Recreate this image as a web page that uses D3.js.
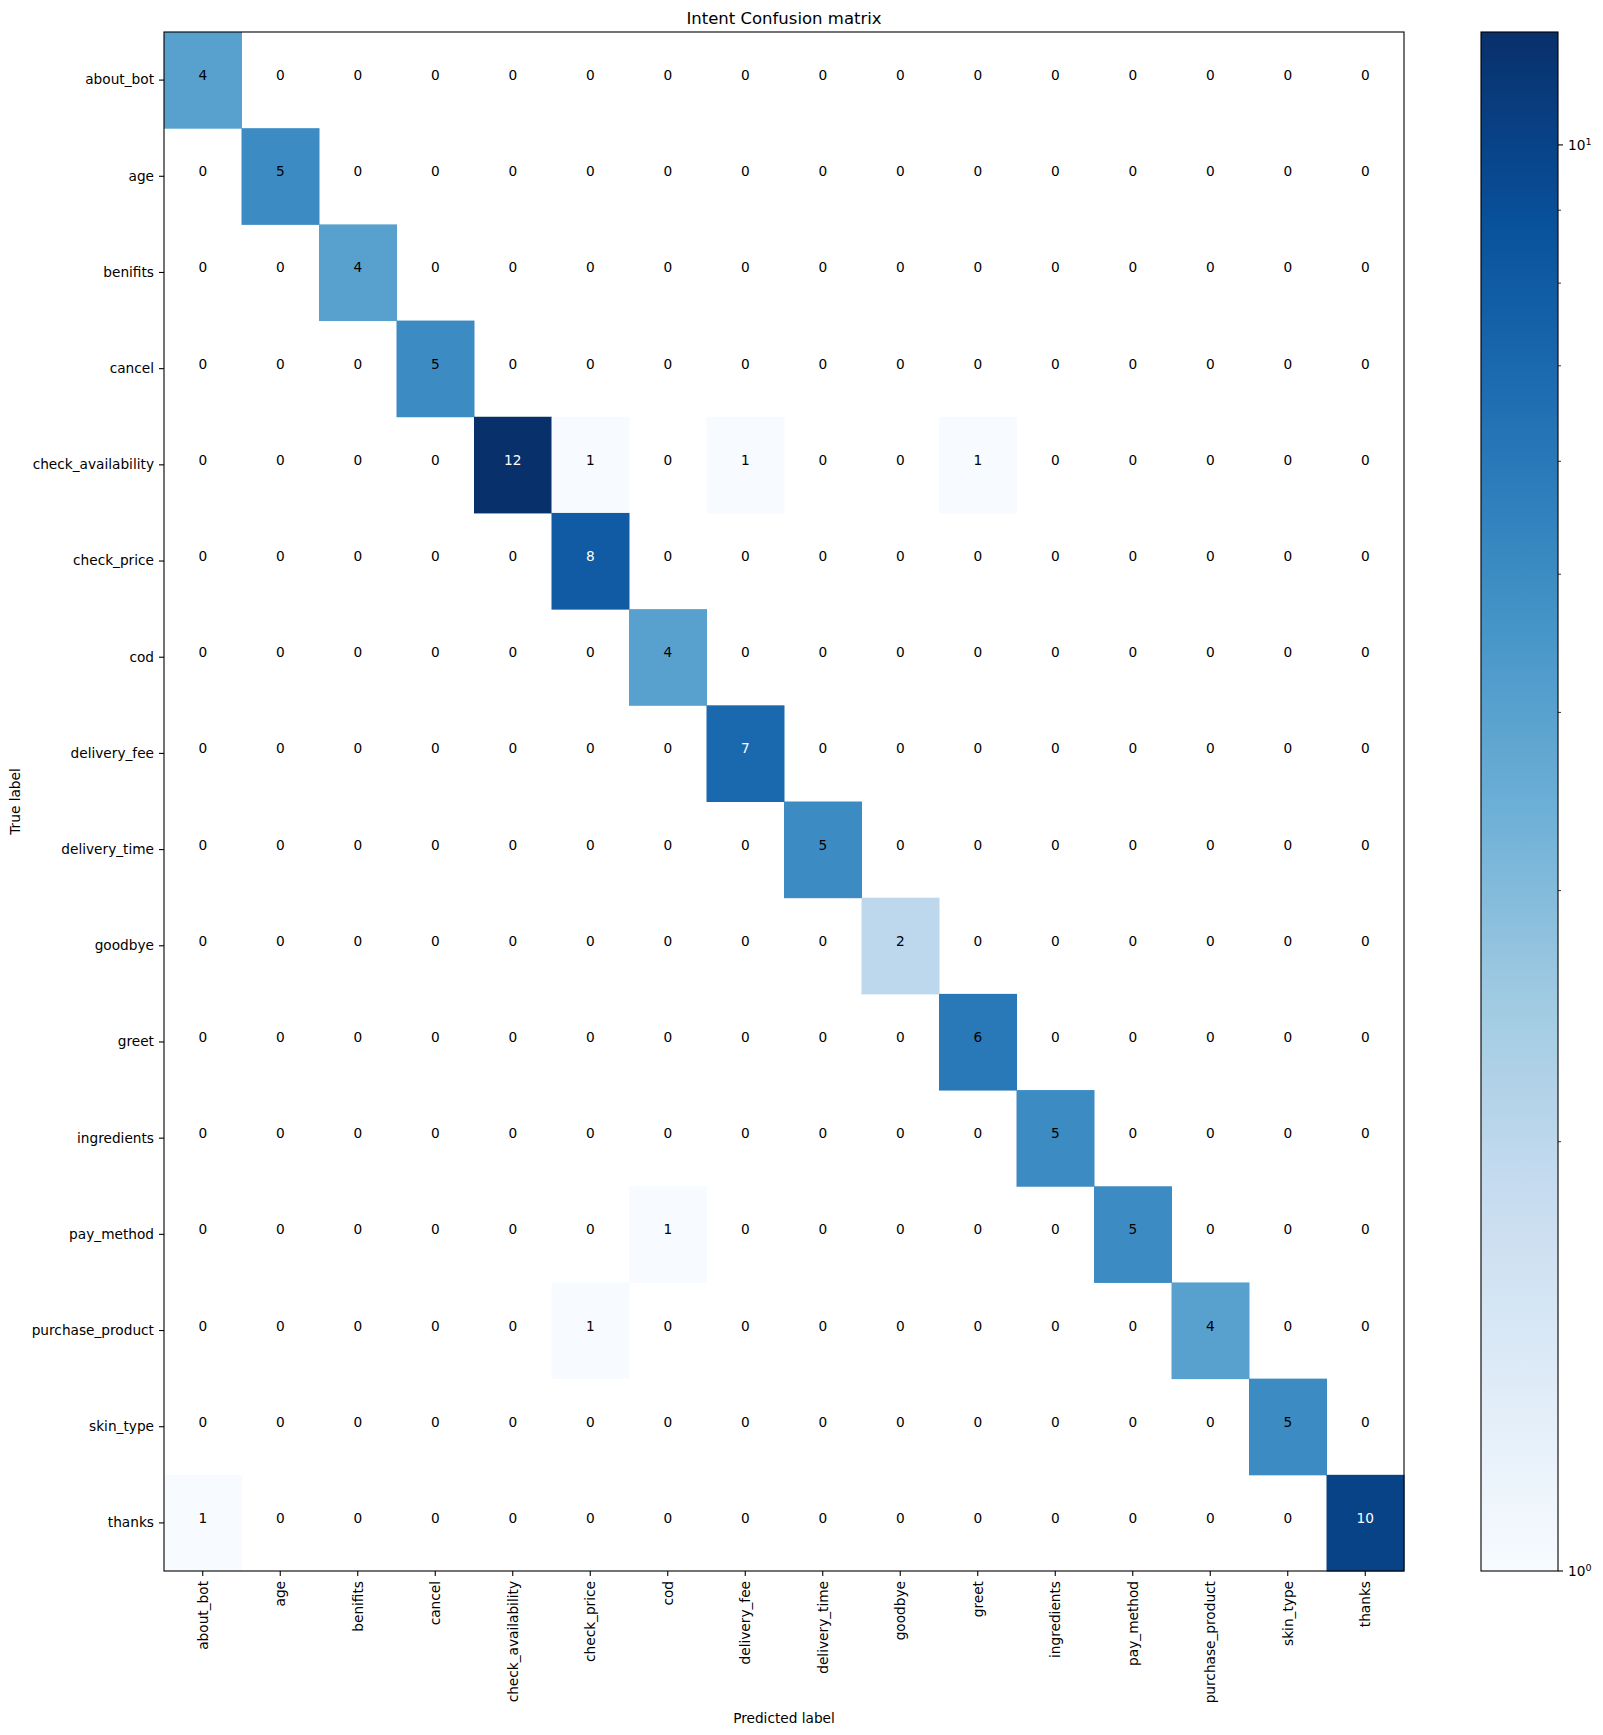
<!DOCTYPE html>
<html>
<head>
<meta charset="utf-8">
<script src="https://cdn.jsdelivr.net/npm/d3@7"></script>
<style>
  body { margin: 0; background: #fff; }
  text { font-family: "DejaVu Sans", sans-serif; fill: #000; }
</style>
</head>
<body>
<svg id="chart" width="1603" height="1735"></svg>
<script>
// intent names (rows = true label, cols = predicted label)
const labels = ["about_bot", "age", "benifits", "cancel", "check_availability",
  "check_price", "cod", "delivery_fee", "delivery_time", "goodbye", "greet",
  "ingredients", "pay_method", "purchase_product", "skin_type", "thanks"];

// confusion matrix rows
const matrix = [
  [4, 0, 0, 0, 0, 0, 0, 0, 0, 0, 0, 0, 0, 0, 0, 0],
  [0, 5, 0, 0, 0, 0, 0, 0, 0, 0, 0, 0, 0, 0, 0, 0],
  [0, 0, 4, 0, 0, 0, 0, 0, 0, 0, 0, 0, 0, 0, 0, 0],
  [0, 0, 0, 5, 0, 0, 0, 0, 0, 0, 0, 0, 0, 0, 0, 0],
  [0, 0, 0, 0, 12, 1, 0, 1, 0, 0, 1, 0, 0, 0, 0, 0],
  [0, 0, 0, 0, 0, 8, 0, 0, 0, 0, 0, 0, 0, 0, 0, 0],
  [0, 0, 0, 0, 0, 0, 4, 0, 0, 0, 0, 0, 0, 0, 0, 0],
  [0, 0, 0, 0, 0, 0, 0, 7, 0, 0, 0, 0, 0, 0, 0, 0],
  [0, 0, 0, 0, 0, 0, 0, 0, 5, 0, 0, 0, 0, 0, 0, 0],
  [0, 0, 0, 0, 0, 0, 0, 0, 0, 2, 0, 0, 0, 0, 0, 0],
  [0, 0, 0, 0, 0, 0, 0, 0, 0, 0, 6, 0, 0, 0, 0, 0],
  [0, 0, 0, 0, 0, 0, 0, 0, 0, 0, 0, 5, 0, 0, 0, 0],
  [0, 0, 0, 0, 0, 0, 1, 0, 0, 0, 0, 0, 5, 0, 0, 0],
  [0, 0, 0, 0, 0, 1, 0, 0, 0, 0, 0, 0, 0, 4, 0, 0],
  [0, 0, 0, 0, 0, 0, 0, 0, 0, 0, 0, 0, 0, 0, 5, 0],
  [1, 0, 0, 0, 0, 0, 0, 0, 0, 0, 0, 0, 0, 0, 0, 10]
];

// colorbar ticks (log scale)
const cbMajor = [1, 10];
const cbMinor = [2, 3, 4, 5, 6, 7, 8, 9];

// matplotlib "Blues"
const bluesStops = ["#f7fbff", "#deebf7", "#c6dbef", "#9ecae1", "#6baed6",
  "#4292c6", "#2171b5", "#08519c", "#08306b"];

const vmin = 1, vmax = d3.max(matrix.flat());
const axLeft = 164, axRight = 1404, axTop = 32, axBottom = 1571;
const cbLeft = 1481, cbRight = 1558;
const fs = 13.7;

const svg = d3.select("#chart");

const x = d3.scaleBand().domain(labels).range([axLeft, axRight]);
const y = d3.scaleBand().domain(labels).range([axTop, axBottom]);

const ramp = d3.scaleLinear()
  .domain(d3.range(bluesStops.length).map(i => i / (bluesStops.length - 1)))
  .range(bluesStops)
  .interpolate(d3.interpolateRgb);
const norm = d3.scaleLog().domain([vmin, vmax]).range([0, 1]);
const color = v => ramp(norm(v));

const cells = [];
matrix.forEach((row, i) => row.forEach((v, j) => cells.push({ r: labels[i], c: labels[j], v })));

// heatmap cells (zeros are masked -> white)
svg.append("g").selectAll("rect")
  .data(cells.filter(d => d.v > 0))
  .join("rect")
  .attr("x", d => x(d.c))
  .attr("y", d => y(d.r))
  .attr("width", x.bandwidth() + 0.5)
  .attr("height", y.bandwidth() + 0.5)
  .attr("fill", d => color(d.v));

// annotations
const thresh = vmax / 2;
svg.append("g").selectAll("text")
  .data(cells)
  .join("text")
  .attr("x", d => x(d.c) + x.bandwidth() / 2)
  .attr("y", d => y(d.r) + y.bandwidth() / 2)
  .attr("text-anchor", "middle")
  .style("font-size", fs + "px")
  .style("fill", d => d.v > thresh ? "#fff" : "#000")
  .text(d => d.v);

// axes
const xAxis = svg.append("g")
  .attr("transform", `translate(0,${axBottom})`)
  .call(d3.axisBottom(x).tickSize(5).tickPadding(5));
xAxis.selectAll("text")
  .attr("transform", "rotate(-90)")
  .attr("x", -10)
  .attr("y", 0)
  .attr("dy", "0.35em")
  .attr("text-anchor", "end");

const yAxis = svg.append("g")
  .attr("transform", `translate(${axLeft},0)`)
  .call(d3.axisLeft(y).tickSize(5).tickPadding(5));

[xAxis, yAxis].forEach(g => {
  g.select(".domain").remove();
  g.selectAll("line").attr("stroke", "#000").attr("stroke-width", 1.1);
  g.selectAll("text").style("font-size", fs + "px").attr("fill", "#000")
    .style("font-family", "'DejaVu Sans', sans-serif");
});

svg.append("rect")
  .attr("x", axLeft).attr("y", axTop)
  .attr("width", axRight - axLeft).attr("height", axBottom - axTop)
  .attr("fill", "none").attr("stroke", "#000").attr("stroke-width", 1.1);

// titles
svg.append("text")
  .attr("x", (axLeft + axRight) / 2).attr("y", 24)
  .attr("text-anchor", "middle")
  .style("font-size", "16.5px")
  .text("Intent Confusion matrix");

svg.append("text")
  .attr("x", (axLeft + axRight) / 2).attr("y", 1723)
  .attr("text-anchor", "middle")
  .style("font-size", fs + "px")
  .text("Predicted label");

svg.append("text")
  .attr("transform", `translate(20,${(axTop + axBottom) / 2}) rotate(-90)`)
  .attr("text-anchor", "middle")
  .style("font-size", fs + "px")
  .text("True label");

// colorbar
const cb = d3.scaleLog().domain([vmin, vmax]).range([axBottom, axTop]);
const grad = svg.append("defs").append("linearGradient")
  .attr("id", "cbgrad")
  .attr("x1", 0).attr("y1", 1).attr("x2", 0).attr("y2", 0);
grad.selectAll("stop")
  .data(d3.range(0, 1.0001, 0.02))
  .join("stop")
  .attr("offset", d => d)
  .attr("stop-color", d => ramp(d));

svg.append("rect")
  .attr("x", cbLeft).attr("y", axTop)
  .attr("width", cbRight - cbLeft).attr("height", axBottom - axTop)
  .attr("fill", "url(#cbgrad)")
  .attr("stroke", "#000").attr("stroke-width", 1.1);

const cbg = svg.append("g");
cbg.selectAll("line.major")
  .data(cbMajor)
  .join("line")
  .attr("class", "major")
  .attr("x1", cbRight).attr("x2", cbRight + 5)
  .attr("y1", d => cb(d)).attr("y2", d => cb(d))
  .attr("stroke", "#000").attr("stroke-width", 1.1);
cbg.selectAll("line.minor")
  .data(cbMinor)
  .join("line")
  .attr("class", "minor")
  .attr("x1", cbRight).attr("x2", cbRight + 3)
  .attr("y1", d => cb(d)).attr("y2", d => cb(d))
  .attr("stroke", "#000").attr("stroke-width", 0.8);

const cbLabels = cbg.selectAll("text")
  .data(cbMajor)
  .join("text")
  .attr("x", cbRight + 10)
  .attr("y", d => cb(d))
  .attr("dy", "0.35em")
  .style("font-size", fs + "px");
cbLabels.append("tspan").text("10");
cbLabels.append("tspan")
  .attr("dy", "-0.45em")
  .style("font-size", (fs * 0.7) + "px")
  .text(d => Math.round(Math.log10(d)));
</script>
</body>
</html>
